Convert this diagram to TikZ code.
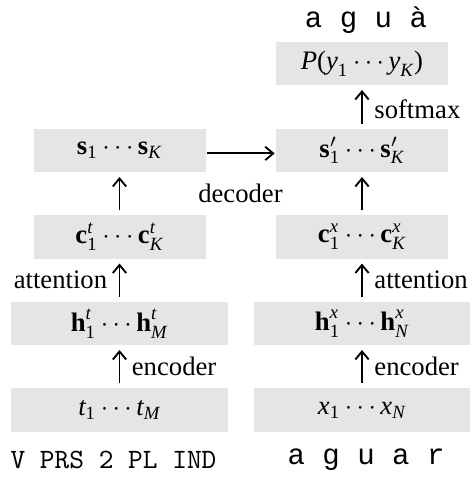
\documentclass[tikz,border=0pt]{standalone}
\usepackage{amsmath}
\usepackage{fontspec}
\setmainfont{Liberation Serif}
\newfontfamily\monoA{Liberation Mono}
\newfontfamily\monoT{Latin Modern Mono}
\newcommand\vi[1]{\text{\normalfont\itshape #1}}
\newcommand\vb[1]{\text{\normalfont\bfseries #1}}
\newcommand\vr[1]{\text{\normalfont #1}}
\usetikzlibrary{arrows.meta}
\begin{document}
\begin{tikzpicture}[x=0.375pt,y=-0.375pt,
  box/.style={fill=black!10, inner sep=0pt, anchor=center},
  nbox/.style={box, minimum width=64.5pt, minimum height=16.3pt},
  wbox/.style={box, minimum width=81.2pt, minimum height=16.3pt},
  arr/.style={-{Straight Barb[length=3pt,width=5pt]}, line width=0.7pt, shorten <=1.6pt, shorten >=1.6pt},
  lab/.style={font=\fontsize{10}{12}\selectfont, inner sep=0pt},
  font=\fontsize{10}{12}\selectfont]
\useasboundingbox (0,0) rectangle (471,479);
% top output
\node[lab, font=\monoA\fontsize{10.9}{12}\selectfont] (out) at (366,20) {a g u à};
\node[nbox] (P) at (362,63.5) {$\vi{P}\vr{(}\vi{y}_{\vr{1}}\cdots\vi{y}_{\vi{K}}\vr{)}$};
% s row
\node[nbox] (s) at (119.5,150.5) {$\vb{s}_{\vr{1}}\cdots\vb{s}_{\vi{K}}$};
\node[nbox] (sp) at (362,150.5) {$\vb{s}'_{\vr{1}}\cdots\vb{s}'_{\vi{K}}$};
% c row
\node[nbox] (ct) at (119.5,237) {$\vb{c}^{\vi{t}}_{\vr{1}}\cdots\vb{c}^{\vi{t}}_{\vi{K}}$};
\node[nbox] (cx) at (362,237) {$\vb{c}^{\vi{x}}_{\vr{1}}\cdots\vb{c}^{\vi{x}}_{\vi{K}}$};
% h row
\node[wbox] (ht) at (119.5,323.5) {$\vb{h}^{\vi{t}}_{\vr{1}}\cdots\vb{h}^{\vi{t}}_{\vi{M}}$};
\node[wbox] (hx) at (362,323.5) {$\vb{h}^{\vi{x}}_{\vr{1}}\cdots\vb{h}^{\vi{x}}_{\vi{N}}$};
% input row
\node[wbox] (t) at (119.5,410) {$\vi{t}_{\vr{1}}\cdots\vi{t}_{\vi{M}}$};
\node[wbox] (x) at (362,410) {$\vi{x}_{\vr{1}}\cdots\vi{x}_{\vi{N}}$};
% input labels
\node[lab, font=\monoT\fontsize{10.5}{12}\selectfont] (tags) at (113.5,460) {V PRS 2 PL IND};
\node[lab, font=\monoA\fontsize{10.9}{12}\selectfont] (lemma) at (366,460) {a g u a r};
% arrows
\draw[arr] (t) -- (ht) node[midway, right=4.3pt, lab] (enc1) {encoder};
\draw[arr] (x) -- (hx) node[midway, right=4.3pt, lab] (enc2) {encoder};
\draw[arr] (ht) -- (ct) node[midway, left=4.3pt, lab] (att1) {attention};
\draw[arr] (hx) -- (cx) node[midway, right=4.3pt, lab] (att2) {attention};
\draw[arr] (ct) -- (s);
\draw[arr] (cx) -- (sp);
\draw[arr] (sp) -- (P) node[midway, right=4.3pt, yshift=-1pt, lab] (soft) {softmax};
\draw[arr, shorten <=0.3pt, shorten >=0.3pt] ([yshift=-1.1pt]s.east) -- ([yshift=-1.1pt]sp.west);
\node[lab] (dec) at (240.5,193.5) {decoder};
\end{tikzpicture}
\end{document}
